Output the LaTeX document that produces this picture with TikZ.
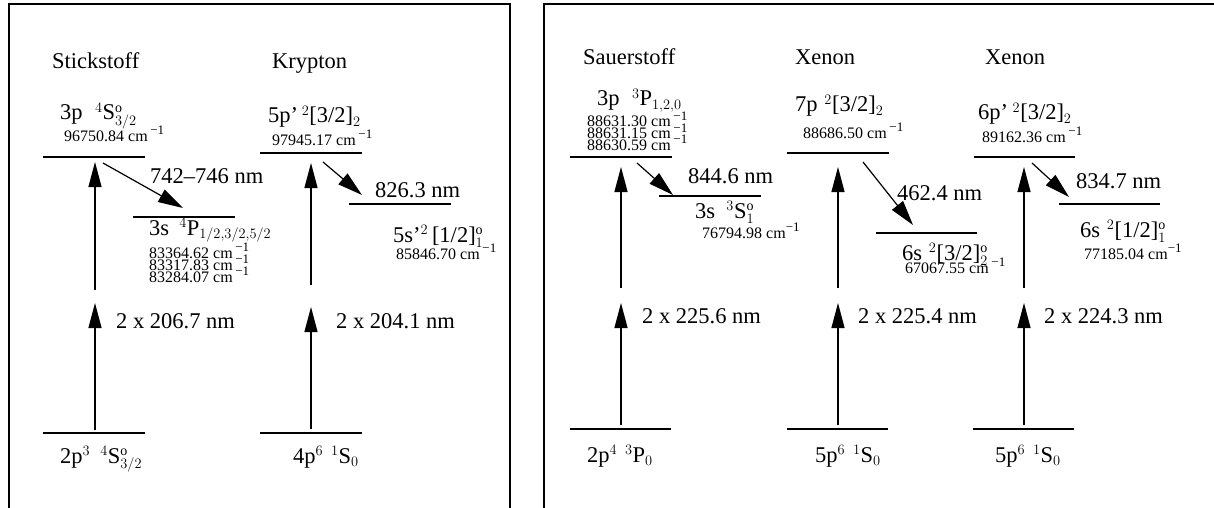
\documentclass[tikz,border=0pt]{standalone}
\usepackage{fontspec}
\setmainfont{Liberation Serif}
\usetikzlibrary{arrows.meta}
\DeclareMathSizes{22.5}{22.5}{14}{10}
\newcommand{\mo}{\mathrm{o}}
\newcommand{\emi}{\raisebox{0.42em}{\fontsize{13}{13}\selectfont −1}}
\newcommand{\icm}{cm\,\emi}
\tikzset{
  big/.style={font=\fontsize{22.5}{27}\selectfont, inner sep=0pt, anchor=base west},
  small/.style={font=\fontsize{16}{12}\selectfont, inner sep=0pt, anchor=base west},
  lev/.style={line width=1.4pt},
  frame/.style={line width=1.3pt},
  up/.style={line width=1.2pt, -{Triangle[length=25pt,width=13pt]}},
  trans/.style={line width=1.2pt, -{Triangle[length=25pt,width=14pt]}}
}
\begin{document}
\begin{tikzpicture}[x=1pt,y=-1pt]
\useasboundingbox (0,0) rectangle (1214,508);
% frames
\draw[frame] (9,509) -- (9,4) -- (510,4) -- (510,509);
\draw[frame] (544,509) -- (544,4) -- (1215,4);

% ===== Stickstoff =====
\node[big] (tN) at (52,69) {Stickstoff};
\node[big] (Nu) at (60,120) {3p\hspace{0.55em}$^{4}$S$^{\mo}_{3/2}$};
\node[small] (Nue) at (64,141) {96750.84 \icm};
\draw[lev] (43,157) coordinate (Nul) -- (145,157) coordinate (Nur);
\node[big] (Nw) at (150,183) {742--746 nm};
\draw[lev] (133,217) coordinate (Nml) -- (235,217) coordinate (Nmr);
\node[big] (Nm) at (149,235) {3s\hspace{0.45em}$^{4}$P$_{1/2,3/2,5/2}$};
\node[small] (Nme1) at (149,258) {83364.62 \icm};
\node[small] (Nme2) at (149,270) {83317.83 \icm};
\node[small] (Nme3) at (149,282) {83284.07 \icm};
\node[big] (Nx) at (116,328) {2 x 206.7 nm};
\draw[lev] (43,433) coordinate (Ngl) -- (145,433) coordinate (Ngr);
\node[big] (Ng) at (60,463) {2p$^{3}$\hspace{0.45em}$^{4}$S$^{\mo}_{3/2}$};
\coordinate (Na0) at (95,430); \coordinate (Na1) at (95,303);
\coordinate (Na2) at (95,290); \coordinate (Na3) at (95,162);
\draw[up] (Na0) -- (Na1);
\draw[up] (Na2) -- (Na3);
\coordinate (Nd0) at (103,163); \coordinate (Nd1) at (183,208);
\draw[trans] (Nd0) -- (Nd1);

% ===== Krypton =====
\node[big] (tK) at (272,69) {Krypton};
\node[big] (Ku) at (268,123) {5p’\,$^{2}$[3/2]$_{2}$};
\node[small] (Kue) at (272,145) {97945.17 \icm};
\draw[lev] (260,153) coordinate (Kul) -- (362,153) coordinate (Kur);
\node[big] (Kw) at (375,197) {826.3 nm};
\draw[lev] (349,204) coordinate (Kml) -- (451,204) coordinate (Kmr);
\node[big] (Km) at (393,242) {5s’$^{2}$\,[1/2]$^{\mo}_{1}$};
\node[small] (Kme) at (396,259) {85846.70 \icm};
\node[big] (Kx) at (336,328) {2 x 204.1 nm};
\draw[lev] (260,433) coordinate (Kgl) -- (362,433) coordinate (Kgr);
\node[big] (Kg) at (293,463) {4p$^{6}$\hspace{0.35em}$^{1}$S$_{0}$};
\coordinate (Ka0) at (311,429); \coordinate (Ka1) at (311,307);
\coordinate (Ka2) at (311,285); \coordinate (Ka3) at (311,163);
\draw[up] (Ka0) -- (Ka1);
\draw[up] (Ka2) -- (Ka3);
\coordinate (Kd0) at (323,162); \coordinate (Kd1) at (362,195);
\draw[trans] (Kd0) -- (Kd1);

% ===== Sauerstoff =====
\node[big] (tO) at (583,65) {Sauerstoff};
\node[big] (Ou) at (597,106) {3p\hspace{0.55em}$^{3}$P$_{1,2,0}$};
\node[small] (Oue1) at (587,127) {88631.30 \icm};
\node[small] (Oue2) at (587,139) {88631.15 \icm};
\node[small] (Oue3) at (587,150) {88630.59 \icm};
\draw[lev] (570,157) coordinate (Oul) -- (672,157) coordinate (Our);
\node[big] (Ow) at (688,183) {844.6 nm};
\draw[lev] (659,196) coordinate (Oml) -- (761,196) coordinate (Omr);
\node[big] (Om) at (695,218) {3s\hspace{0.5em}$^{3}$S$^{\mo}_{1}$};
\node[small] (Ome) at (702,238) {76794.98 cm\emi};
\node[big] (Ox) at (642,323) {2 x 225.6 nm};
\draw[lev] (570,429) coordinate (Ogl) -- (671,429) coordinate (Ogr);
\node[big] (Og) at (587,462) {2p$^{4}$\hspace{0.35em}$^{3}$P$_{0}$};
\coordinate (Oa0) at (621,425); \coordinate (Oa1) at (621,303);
\coordinate (Oa2) at (621,288); \coordinate (Oa3) at (621,167);
\draw[up] (Oa0) -- (Oa1);
\draw[up] (Oa2) -- (Oa3);
\coordinate (Od0) at (637,163); \coordinate (Od1) at (673,195);
\draw[trans] (Od0) -- (Od1);

% ===== Xenon 1 =====
\node[big] (tX1) at (795,65) {Xenon};
\node[big] (X1u) at (795,112) {7p\hspace{0.3em}$^{2}$[3/2]$_{2}$};
\node[small] (X1ue) at (803,138) {88686.50 \icm};
\draw[lev] (787,153) coordinate (X1ul) -- (889,153) coordinate (X1ur);
\node[big] (X1w) at (897,200) {462.4 nm};
\draw[lev] (876,233) coordinate (X1ml) -- (977,233) coordinate (X1mr);
\node[big] (X1m) at (902,260) {6s\hspace{0.3em}$^{2}$[3/2]$^{\mo}_{2}$};
\node[small] (X1me) at (905,273) {67067.55 \icm};
\node[big] (X1x) at (858,323) {2 x 225.4 nm};
\draw[lev] (787,429) coordinate (X1gl) -- (888,429) coordinate (X1gr);
\node[big] (X1g) at (815,462) {5p$^{6}$\hspace{0.35em}$^{1}$S$_{0}$};
\coordinate (X1a0) at (838,425); \coordinate (X1a1) at (838,303);
\coordinate (X1a2) at (838,288); \coordinate (X1a3) at (838,167);
\draw[up] (X1a0) -- (X1a1);
\draw[up] (X1a2) -- (X1a3);
\coordinate (X1d0) at (863,162); \coordinate (X1d1) at (913,225);
\draw[trans] (X1d0) -- (X1d1);

% ===== Xenon 2 =====
\node[big] (tX2) at (985,65) {Xenon};
\node[big] (X2u) at (978,120) {6p’\hspace{0.2em}$^{2}$[3/2]$_{2}$};
\node[small] (X2ue) at (982,142) {89162.36 \icm};
\draw[lev] (974,157) coordinate (X2ul) -- (1075,157) coordinate (X2ur);
\node[big] (X2w) at (1076,188) {834.7 nm};
\draw[lev] (1059,204) coordinate (X2ml) -- (1160,204) coordinate (X2mr);
\node[big] (X2m) at (1080,237) {6s\hspace{0.3em}$^{2}$[1/2]$^{\mo}_{1}$};
\node[small] (X2me) at (1084,259) {77185.04 cm\emi};
\node[big] (X2x) at (1044,323) {2 x 224.3 nm};
\draw[lev] (973,429) coordinate (X2gl) -- (1074,429) coordinate (X2gr);
\node[big] (X2g) at (995,462) {5p$^{6}$\hspace{0.35em}$^{1}$S$_{0}$};
\coordinate (X2a0) at (1024,425); \coordinate (X2a1) at (1024,303);
\coordinate (X2a2) at (1024,288); \coordinate (X2a3) at (1024,167);
\draw[up] (X2a0) -- (X2a1);
\draw[up] (X2a2) -- (X2a3);
\coordinate (X2d0) at (1032,163); \coordinate (X2d1) at (1069,197);
\draw[trans] (X2d0) -- (X2d1);
\end{tikzpicture}
\end{document}
